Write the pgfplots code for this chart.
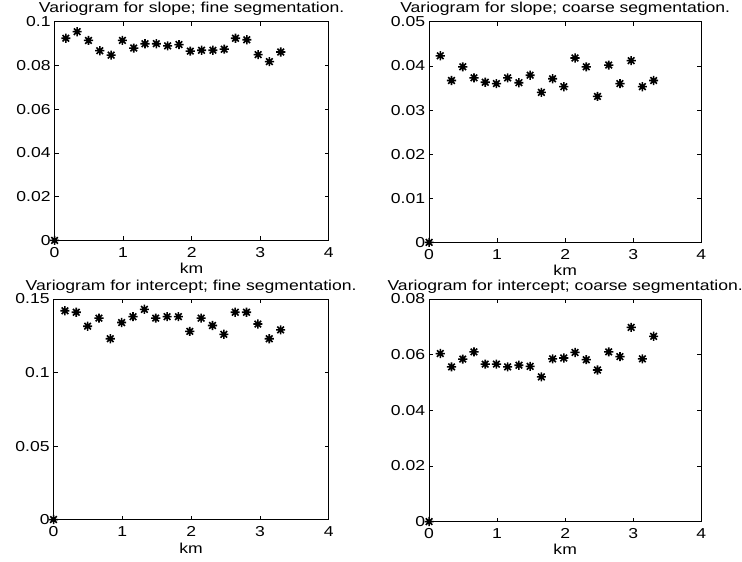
\documentclass[border=0pt]{standalone}
\usepackage{pgfplots}
\pgfplotsset{compat=1.18}
\usepackage{fontspec}
\setmainfont[FakeStretch=1.22]{Liberation Sans}
\pgfdeclareplotmark{mstar}{%
  \pgfpathmoveto{\pgfqpoint{-\pgfplotmarksize}{0pt}}\pgfpathlineto{\pgfqpoint{\pgfplotmarksize}{0pt}}%
  \pgfpathmoveto{\pgfqpoint{0pt}{-\pgfplotmarksize}}\pgfpathlineto{\pgfqpoint{0pt}{\pgfplotmarksize}}%
  \pgfpathmoveto{\pgfqpoint{-0.72\pgfplotmarksize}{-0.72\pgfplotmarksize}}\pgfpathlineto{\pgfqpoint{0.72\pgfplotmarksize}{0.72\pgfplotmarksize}}%
  \pgfpathmoveto{\pgfqpoint{-0.72\pgfplotmarksize}{0.72\pgfplotmarksize}}\pgfpathlineto{\pgfqpoint{0.72\pgfplotmarksize}{-0.72\pgfplotmarksize}}%
  \pgfusepathqstroke}
\begin{document}
\fontsize{14.5bp}{17bp}\selectfont
\pgfplotsset{
  vario/.style={
    scale only axis, anchor=south west,
    xmin=0, xmax=4, ymin=0,
    xtick={0,1,2,3,4},
    scaled y ticks=false,
    tick align=inside,
    major tick length=4bp,
    axis line style={line width=0.9bp},
    every tick/.style={line width=0.8bp, black},
    clip=false,
    /pgf/number format/assume math mode=true,
    tick label style={font=\fontsize{14.5bp}{17bp}\selectfont},
    label style={font=\fontsize{14.5bp}{17bp}\selectfont},
    title style={font=\fontsize{14.5bp}{17bp}\selectfont, yshift=-5bp},
    xlabel={km},
    xlabel style={yshift=4bp},
    xticklabel style={yshift=-2bp},
    yticklabel style={xshift=1bp},
  },
  pts/.style={only marks, mark=mstar, mark size=4.6bp, black, line width=1.6bp},
}
\begin{tikzpicture}
\useasboundingbox (0,0) rectangle (742bp,565bp);

% Panel 1
\begin{axis}[vario, at={(50bp,323bp)}, width=276bp, height=220bp,
  ymax=0.1, ytick={0,0.02,0.04,0.06,0.08,0.1},
  yticklabels={0,0.02,0.04,0.06,0.08,0.1},
  title={Variogram for slope; fine segmentation.}]
\addplot[pts] coordinates {
(0,0)
(0.165,0.0925) (0.330,0.0955) (0.495,0.0915) (0.660,0.0868) (0.825,0.0848)
(0.990,0.0915) (1.155,0.0880) (1.320,0.0900) (1.485,0.0900) (1.650,0.0890)
(1.815,0.0896) (1.980,0.0866) (2.145,0.0870) (2.310,0.0870) (2.475,0.0875)
(2.640,0.0925) (2.805,0.0918) (2.970,0.0850) (3.135,0.0818) (3.300,0.0862)
};
\end{axis}

% Panel 2
\begin{axis}[vario, at={(427bp,321bp)}, width=274bp, height=222bp,
  ymax=0.05, ytick={0,0.01,0.02,0.03,0.04,0.05},
  yticklabels={0,0.01,0.02,0.03,0.04,0.05},
  title={Variogram for slope; coarse segmentation.}]
\addplot[pts] coordinates {
(0,0)
(0.165,0.0423) (0.330,0.0367) (0.495,0.0398) (0.660,0.0373) (0.825,0.0363)
(0.990,0.0360) (1.155,0.0373) (1.320,0.0362) (1.485,0.0379) (1.650,0.0340)
(1.815,0.0371) (1.980,0.0353) (2.145,0.0418) (2.310,0.0398) (2.475,0.0331)
(2.640,0.0402) (2.805,0.0360) (2.970,0.0412) (3.135,0.0353) (3.300,0.0367)
};
\end{axis}

% Panel 3
\begin{axis}[vario, at={(49bp,42bp)}, width=277bp, height=222bp,
  ymax=0.15, ytick={0,0.05,0.1,0.15},
  yticklabels={0,0.05,0.1,0.15},
  title={Variogram for intercept; fine segmentation.}]
\addplot[pts] coordinates {
(0,0)
(0.165,0.1420) (0.330,0.1410) (0.495,0.1315) (0.660,0.1370) (0.825,0.1230)
(0.990,0.1340) (1.155,0.1380) (1.320,0.1430) (1.485,0.1370) (1.650,0.1380)
(1.815,0.1380) (1.980,0.1280) (2.145,0.1370) (2.310,0.1320) (2.475,0.1260)
(2.640,0.1410) (2.805,0.1410) (2.970,0.1330) (3.135,0.1230) (3.300,0.1290)
};
\end{axis}

% Panel 4
\begin{axis}[vario, at={(427bp,40bp)}, width=274bp, height=224bp,
  ymax=0.08, ytick={0,0.02,0.04,0.06,0.08},
  yticklabels={0,0.02,0.04,0.06,0.08},
  title={Variogram for intercept; coarse segmentation.}]
\addplot[pts] coordinates {
(0,0)
(0.165,0.0604) (0.330,0.0556) (0.495,0.0584) (0.660,0.0610) (0.825,0.0566)
(0.990,0.0566) (1.155,0.0556) (1.320,0.0562) (1.485,0.0558) (1.650,0.0520)
(1.815,0.0585) (1.980,0.0588) (2.145,0.0608) (2.310,0.0582) (2.475,0.0545)
(2.640,0.0610) (2.805,0.0593) (2.970,0.0698) (3.135,0.0585) (3.300,0.0666)
};
\end{axis}
\end{tikzpicture}
\end{document}
